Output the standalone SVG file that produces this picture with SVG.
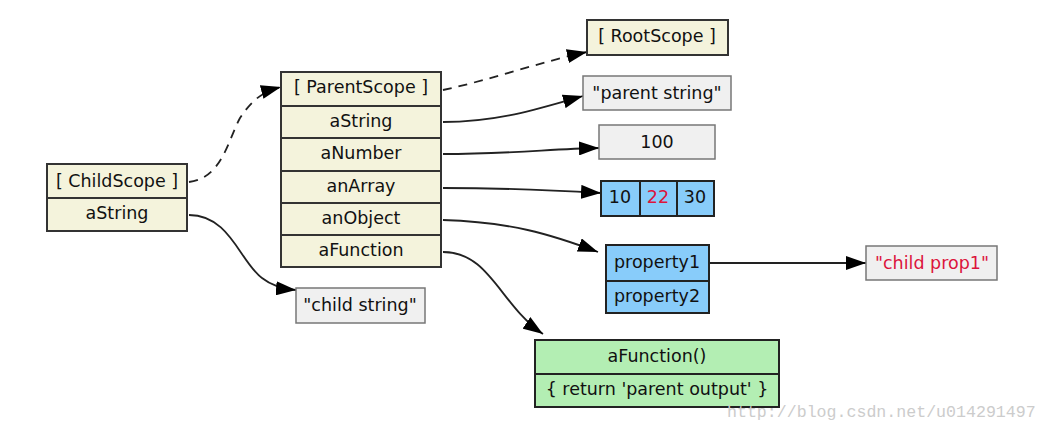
<svg xmlns="http://www.w3.org/2000/svg" width="1047" height="432" viewBox="0 0 1047 432">
<style>
text{font-family:"DejaVu Sans",Verdana,sans-serif;font-size:17.5px;fill:#111;text-anchor:middle;dominant-baseline:central}
.scope{fill:#f4f3dc;stroke:#333;stroke-width:2}
.val{fill:#f0f0f0;stroke:#777;stroke-width:1.5}
.blue{fill:#88ccfa;stroke:#222;stroke-width:2}
.green{fill:#b3eeb3;stroke:#222;stroke-width:2}
.red{fill:#dc143c}
.edge{fill:none;stroke:#222;stroke-width:1.8}
.dash{stroke-dasharray:9,7}
.wm{font-family:"Liberation Mono","DejaVu Sans Mono",monospace;font-size:16.6px;fill:#ccc;text-anchor:start}
</style>
<defs>
<marker id="ah" viewBox="0 0 20 14" refX="20" refY="7" markerWidth="20" markerHeight="14" markerUnits="userSpaceOnUse" orient="auto">
<path d="M0,0 L20,7 L0,14 z" fill="#000"/>
</marker>
</defs>
<g id="connectors">
<path class="edge dash" d="M189,182 C222,178 228,140 240,118 C252,100 262,92 281,87" marker-end="url(#ah)"/>
<path class="edge" d="M189,215 C230,215 240,262 262,278 C272,286 284,289 296,290" marker-end="url(#ah)"/>
<path class="edge dash" d="M443,90 C490,80 540,62 587,52" marker-end="url(#ah)"/>
<path class="edge" d="M443,122 C500,122 540,108 583,96" marker-end="url(#ah)"/>
<path class="edge" d="M443,154 C510,154 550,149 599,148" marker-end="url(#ah)"/>
<path class="edge" d="M443,188 C510,188 550,190 601,193" marker-end="url(#ah)"/>
<path class="edge" d="M443,220 C510,222 550,234 598,252" marker-end="url(#ah)"/>
<path class="edge" d="M443,252 C490,252 500,305 543,334" marker-end="url(#ah)"/>
<path class="edge" d="M709,263 L866,263" marker-end="url(#ah)"/>
</g>
<g id="childScope">
<rect class="scope" x="47" y="164" width="140" height="67"/>
<line x1="47" y1="198" x2="187" y2="198" stroke="#333" stroke-width="2"/>
<text x="117" y="181">[ ChildScope ]</text>
<text x="117" y="213">aString</text>
</g>
<g id="parentScope">
<rect class="scope" x="281" y="72" width="160" height="195"/>
<g stroke="#333" stroke-width="2">
<line x1="281" y1="106" x2="441" y2="106"/>
<line x1="281" y1="138" x2="441" y2="138"/>
<line x1="281" y1="171" x2="441" y2="171"/>
<line x1="281" y1="203" x2="441" y2="203"/>
<line x1="281" y1="235" x2="441" y2="235"/>
</g>
<text x="361" y="87">[ ParentScope ]</text>
<text x="361" y="121">aString</text>
<text x="361" y="153">aNumber</text>
<text x="361" y="186">anArray</text>
<text x="361" y="218">anObject</text>
<text x="361" y="250">aFunction</text>
</g>
<g id="rootScope">
<rect class="scope" x="587" y="20" width="141" height="35"/>
<text x="657" y="36">[ RootScope ]</text>
</g>
<g id="parentString">
<rect class="val" x="583" y="76" width="148" height="34"/>
<text x="657" y="93">"parent string"</text>
</g>
<g id="number100">
<rect class="val" x="599" y="125" width="116" height="34"/>
<text x="657" y="142">100</text>
</g>
<g id="array">
<rect class="blue" x="601" y="181" width="113" height="35"/>
<line x1="640" y1="181" x2="640" y2="216" stroke="#222" stroke-width="2"/>
<line x1="677" y1="181" x2="677" y2="216" stroke="#222" stroke-width="2"/>
<text x="620" y="197">10</text>
<text x="658" y="197" class="red">22</text>
<text x="695" y="197">30</text>
</g>
<g id="object">
<rect class="blue" x="606" y="245" width="103" height="68"/>
<line x1="606" y1="281" x2="709" y2="281" stroke="#222" stroke-width="2"/>
<text x="657" y="262">property1</text>
<text x="657" y="296">property2</text>
</g>
<g id="childProp1">
<rect class="val" x="866" y="246" width="131" height="34"/>
<text x="932" y="263" class="red">"child prop1"</text>
</g>
<g id="childString">
<rect class="val" x="296" y="288" width="129" height="35"/>
<text x="360" y="305">"child string"</text>
</g>
<g id="aFunctionBox">
<rect class="green" x="535" y="340" width="244" height="67"/>
<line x1="535" y1="374" x2="779" y2="374" stroke="#222" stroke-width="2"/>
<text x="657" y="356">aFunction()</text>
<text x="657" y="389">{ return 'parent output' }</text>
</g>
<text class="wm" x="727" y="412">http://blog.csdn.net/u014291497</text>
</svg>
